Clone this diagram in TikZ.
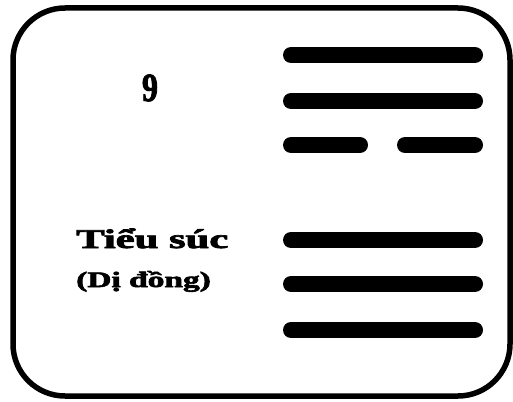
\documentclass[tikz,border=0pt]{standalone}
\usepackage{fontspec}
\setmainfont{Liberation Serif}
\newfontfamily\heavy{Liberation Serif}[BoldFeatures={FakeBold=2.5}]
\usetikzlibrary{calc}
\begin{document}
\begin{tikzpicture}[x=1pt,y=-1pt,
  frame/.style={line width=5.5pt,rounded corners=52pt},
  yangbar/.style={line width=16pt,line cap=round},
  label/.style={inner sep=0pt,anchor=base west,font=\heavy\bfseries}]
\useasboundingbox (0,0) rectangle (513,401);
\draw[frame] (13,8) rectangle (510,396);
% upper trigram
\coordinate (a1) at (291,55);  \coordinate (b1) at (475,55);
\coordinate (a2) at (291,101); \coordinate (b2) at (475,101);
\coordinate (a3) at (291,145); \coordinate (c3) at (360,145);
\coordinate (d3) at (405,145); \coordinate (b3) at (475,145);
% lower trigram
\coordinate (a4) at (291,240); \coordinate (b4) at (475,240);
\coordinate (a5) at (291,284); \coordinate (b5) at (475,284);
\coordinate (a6) at (291,330); \coordinate (b6) at (475,330);
\draw[yangbar] (a1) -- (b1);
\draw[yangbar] (a2) -- (b2);
\draw[yangbar] (a3) -- (c3);
\draw[yangbar] (d3) -- (b3);
\draw[yangbar] (a4) -- (b4);
\draw[yangbar] (a5) -- (b5);
\draw[yangbar] (a6) -- (b6);
\node[label,anchor=base] (num) at (150,101) {\scalebox{0.8}[1]{\fontsize{40}{40}\selectfont 9}};
\node[label] (name) at (76,248) {\scalebox{1.58}[1]{\fontsize{27}{27}\selectfont Tiểu súc}};
\node[label] (alt) at (76,287) {\scalebox{1.52}[1]{\fontsize{22}{22}\selectfont (Dị đồng)}};
\end{tikzpicture}
\end{document}
